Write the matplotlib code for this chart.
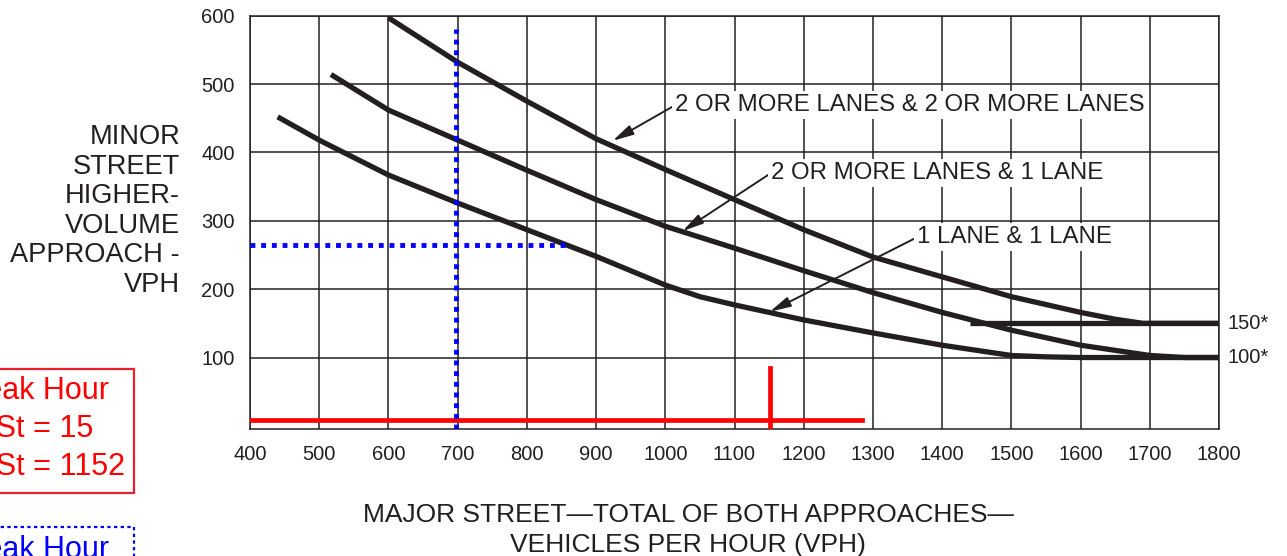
import matplotlib
matplotlib.use('Agg')
from matplotlib import pyplot as plt
from matplotlib.patches import Rectangle

plt.rcParams['font.family'] = ['Liberation Sans', 'DejaVu Sans']

INK = '#231f20'

# warrant curves: major street total vph -> minor street vph
major_2_2 = [600, 700, 800, 900, 1000, 1100, 1200, 1300, 1400, 1500, 1600, 1650, 1690, 1800]
minor_2_2 = [597, 532, 475, 420, 375, 331, 287, 247, 218, 189, 166, 156, 150, 150]

major_2_1 = [517, 600, 700, 800, 900, 1000, 1100, 1200, 1300, 1400, 1500, 1600, 1700, 1750, 1800]
minor_2_1 = [514, 462, 418, 374, 331, 292, 260, 227, 195, 166, 140, 118, 103, 100, 100]

major_1_1 = [440, 500, 600, 700, 800, 900, 950, 1000, 1050, 1100, 1200, 1300, 1400, 1500, 1550, 1600, 1800]
minor_1_1 = [452, 418, 367, 326, 287, 248, 227, 206, 189, 177, 155, 136, 118, 103, 101, 100, 100]

# 150 vph floor line
major_floor = [1440, 1800]
minor_floor = [150, 150]

curve_labels = ['2 OR MORE LANES & 2 OR MORE LANES',
                '2 OR MORE LANES & 1 LANE',
                '1 LANE & 1 LANE']
label_pos = [(1014, 469), (1153, 370), (1364, 276)]
arrow_tip = [(924, 417), (1025, 285), (1151, 167)]

floor_labels = ['150*', '100*']
floor_values = [150, 100]

# PM peak hour point (red)
pm_major = 1152
pm_minor = 9
pm_major_span = [400, 1284]
pm_minor_span = [-3, 84]

# AM peak hour point (blue)
am_major = 697
am_minor = 265
am_major_span = [400, 855]
am_minor_span = [-5, 580]

x_ticks = list(range(400, 1801, 100))
y_ticks = list(range(100, 601, 100))

fig = plt.figure(figsize=(12.87, 5.56), dpi=100)
ax = fig.add_axes([250 / 1287, 1 - 429.3 / 556, 969 / 1287, (429.3 - 15.7) / 556])

ax.set_xlim(400, 1800)
ax.set_ylim(-5, 600)
ax.set_xticks(x_ticks)
ax.set_yticks(y_ticks)
ax.tick_params(length=0, labelsize=14.5, colors=INK, pad=11)
ax.grid(color=INK, lw=1.1)
ax.set_axisbelow(True)
for s in ax.spines.values():
    s.set_color(INK)
    s.set_linewidth(1.1)

curve_kw = dict(color=INK, lw=3.8, solid_joinstyle='round', solid_capstyle='butt', zorder=3)
ax.plot(major_2_2, minor_2_2, **curve_kw)
ax.plot(major_2_1, minor_2_1, **curve_kw)
ax.plot(major_1_1, minor_1_1, **curve_kw)
ax.plot(major_floor, minor_floor, **curve_kw)

for txt, pos, tip in zip(curve_labels, label_pos, arrow_tip):
    ax.annotate(txt, xy=tip, xytext=pos, ha='left', va='center', fontsize=17.3, color=INK,
                bbox=dict(facecolor='white', edgecolor='none', pad=2),
                arrowprops=dict(arrowstyle='-|>,head_length=0.9,head_width=0.22', color=INK,
                                lw=1.4, shrinkA=0, shrinkB=0, relpos=(0, 0.5),
                                mutation_scale=14),
                zorder=4)

for txt, v in zip(floor_labels, floor_values):
    ax.text(1.009, v, txt, transform=ax.get_yaxis_transform(), ha='left', va='center',
            fontsize=14.5, color=INK)

# overlays
ax.plot(pm_major_span, [pm_minor, pm_minor], color='#ff0000', lw=3.4, zorder=5)
ax.plot([pm_major, pm_major], pm_minor_span, color='#ff0000', lw=3.4, zorder=5)
ax.plot(am_major_span, [am_minor, am_minor], color='#0000ff', lw=3.5,
        linestyle=(0, (1.0, 1.2)), dash_capstyle='butt', zorder=5)
ax.plot([am_major, am_major], am_minor_span, color='#0000ff', lw=3.5,
        linestyle=(0, (1.0, 1.2)), dash_capstyle='butt', zorder=5)

fig.text(180 / 1287, 1 - 211 / 556, 'MINOR\nSTREET\nHIGHER-\nVOLUME\nAPPROACH -\nVPH',
         ha='right', va='center', fontsize=19.6, color=INK, linespacing=1.18)
fig.text(688 / 1287, 1 - 530 / 556,
         'MAJOR STREET\u2014TOTAL OF BOTH APPROACHES\u2014\nVEHICLES PER HOUR (VPH)',
         ha='center', va='center', fontsize=19, color=INK, linespacing=1.27)

# peak hour boxes, cut off at the left edge
fig.add_artist(Rectangle((-0.05, 1 - 493 / 556), 0.05 + 134 / 1287, 124 / 556,
                         fill=False, edgecolor='#e8212f', lw=1.6))
pm_lines = ['PM Peak Hour', 'Minor St = 15', 'Major St = 1152']
for i, line in enumerate(pm_lines):
    fig.text(-89 / 1287, 1 - (399 + 38 * i) / 556, line, ha='left', va='baseline',
             fontsize=22, color='#ff0000')

fig.add_artist(Rectangle((-0.05, -0.1), 0.05 + 134 / 1287, 0.1 + 1 - 527 / 556,
                         fill=False, edgecolor='#0000ff', lw=1.6, linestyle=(0, (1.5, 1.5))))
am_lines = ['AM Peak Hour', 'Minor St = 265', 'Major St = 697']
for i, line in enumerate(am_lines):
    fig.text(-89 / 1287, 1 - (558 + 38 * i) / 556, line, ha='left', va='baseline',
             fontsize=22, color='#0000ff')

fig.savefig('out.png', dpi=100)
